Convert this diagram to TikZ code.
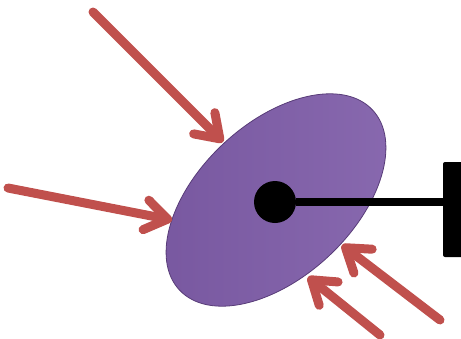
\documentclass[tikz,border=0pt]{standalone}
\usetikzlibrary{shapes.geometric,arrows.meta}
\definecolor{arrowred}{RGB}{192,80,77}
\definecolor{blobfill}{RGB}{126,92,168}
\definecolor{blobedge}{RGB}{88,60,120}
\begin{document}
\begin{tikzpicture}[x=1pt,y=1pt,
  force/.style={draw=arrowred, line width=9pt, line cap=round, line join=round,
    -{Straight Barb[length=22pt,width=30pt,line cap=round,line join=round]}},
  blob/.style={ellipse, draw=blobedge, line width=0.8pt, inner sep=0pt,
    left color=blobfill!95!black, right color=blobfill!92!white,
    minimum width=264pt, minimum height=154pt},
  ball/.style={circle, inner sep=0pt, minimum size=42pt, fill=black},
  bar/.style={rectangle, fill=black, rounded corners=2pt, minimum width=20pt, minimum height=95pt, inner sep=0pt}]
\useasboundingbox (0,0) rectangle (461,-338);
\node[blob, rotate=43] (blob) at (276,-200) {};
\node[bar] (bar) at (453,-209.5) {};
\node[ball] (dot) at (275,-202) {};
\draw[line width=8pt] (dot.east) -- (dot.east -| bar.west);
\coordinate (s1) at (93,-12);  \coordinate (t1) at (223,-142);
\coordinate (s2) at (8,-188);  \coordinate (t2) at (172,-220);
\coordinate (s3) at (440,-320); \coordinate (t3) at (342,-245);
\coordinate (s4) at (380,-335); \coordinate (t4) at (308,-277);
\draw[force] (s1) -- (t1);
\draw[force] (s2) -- (t2);
\draw[force] (s3) -- (t3);
\draw[force] (s4) -- (t4);
\end{tikzpicture}
\end{document}
